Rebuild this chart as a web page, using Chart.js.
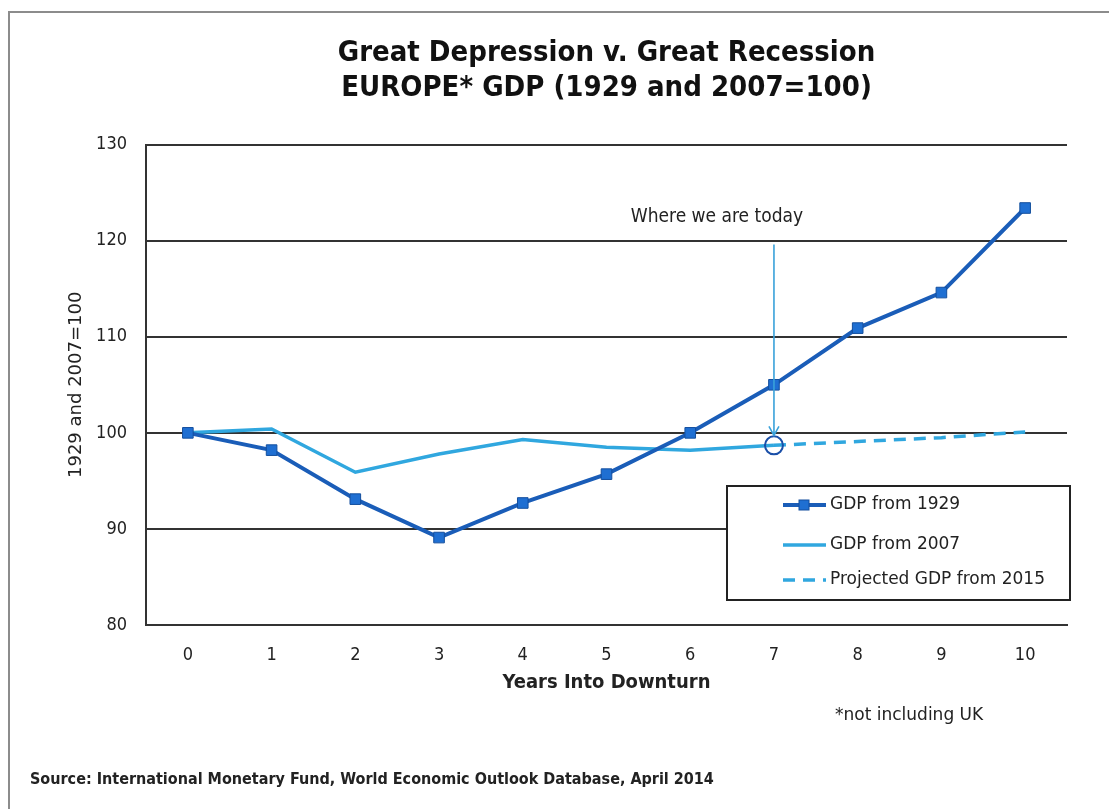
<!DOCTYPE html>
<html>
<head>
<meta charset="utf-8">
<script src="https://cdn.jsdelivr.net/npm/chart.js@4"></script>
<style>
  html, body { margin: 0; padding: 0; background: #fff; }
  #wrap { position: relative; width: 1109px; height: 809px; }
  #frame { position: absolute; left: 8px; top: 11px; right: 0; bottom: 0;
           border-top: 2px solid #8c8c8c; border-left: 2px solid #8c8c8c; }
  canvas { position: absolute; left: 0; top: 0; }
</style>
</head>
<body>
<div id="wrap">
  <div id="frame"></div>
  <canvas id="chart" width="1109" height="809"></canvas>
</div>
<script>
// years into the downturn
const years = ['0', '1', '2', '3', '4', '5', '6', '7', '8', '9', '10'];
// GDP index, 1929 = 100
const gdp1929 = [100, 98.2, 93.1, 89.1, 92.7, 95.7, 100, 105, 110.9, 114.6, 123.4];
// GDP index, 2007 = 100
const gdp2007 = [100, 100.4, 95.9, 97.8, 99.3, 98.5, 98.2, 98.7, null, null, null];
// projection from 2015
const projected = [null, null, null, null, null, null, null, 98.7, 99.1, 99.5, 100.1];
const yTicks = [80, 90, 100, 110, 120, 130];

const DARK = '#1a5db8';
const LIGHT = '#30a7df';
const condensed = '"DejaVu Sans Condensed", "DejaVu Sans", sans-serif';
const plain = '"DejaVu Sans", sans-serif';

// the circle marks "today" on the 2007 line
const todayIndex = 7;
const circleRadius = gdp2007.map((v, i) => i === todayIndex ? 9 : 0);

const extras = {
    id: 'extras',
    afterDatasetsDraw(chart) {
        const ctx = chart.ctx;
        const x = chart.scales.x;
        const y = chart.scales.y;

        // arrow "Where we are today"
        const ax = x.getPixelForValue(todayIndex);
        const top = y.getPixelForValue(119.6);
        const bottom = y.getPixelForValue(gdp2007[todayIndex]) - 10;
        ctx.save();
        ctx.strokeStyle = '#3aa2da';
        ctx.lineWidth = 1.6;
        ctx.beginPath();
        ctx.moveTo(ax, top);
        ctx.lineTo(ax, bottom);
        ctx.moveTo(ax - 5, bottom - 9);
        ctx.lineTo(ax, bottom);
        ctx.lineTo(ax + 5, bottom - 9);
        ctx.stroke();

        ctx.fillStyle = '#222';
        ctx.font = '19px ' + condensed;
        ctx.textAlign = 'center';
        ctx.textBaseline = 'middle';
        ctx.fillText('Where we are today', ax - 57, y.getPixelForValue(122.5));

        // legend box
        const lx = 727, ly = 486, lw = 343, lh = 114;
        ctx.fillStyle = '#fff';
        ctx.fillRect(lx, ly, lw, lh);
        ctx.strokeStyle = '#222';
        ctx.lineWidth = 2;
        ctx.strokeRect(lx, ly, lw, lh);

        const items = chart.data.datasets;
        const rows = [505, 545, 580];
        ctx.textAlign = 'left';
        ctx.font = '17px ' + plain;
        items.forEach((ds, i) => {
            const ry = rows[i];
            ctx.strokeStyle = ds.borderColor;
            ctx.lineWidth = ds.borderWidth;
            ctx.setLineDash(ds.borderDash || []);
            ctx.beginPath();
            ctx.moveTo(783, ry);
            ctx.lineTo(826, ry);
            ctx.stroke();
            ctx.setLineDash([]);
            if (ds.legendMarker) {
                ctx.fillStyle = ds.pointBackgroundColor;
                ctx.strokeStyle = ds.pointBorderColor;
                ctx.lineWidth = 1;
                ctx.fillRect(799, ry - 5, 10, 10);
                ctx.strokeRect(799, ry - 5, 10, 10);
            }
            ctx.fillStyle = '#222';
            ctx.fillText(ds.label, 830, ry);
        });

        // notes
        ctx.font = '17px ' + plain;
        ctx.fillText('*not including UK', 835, 716);
        ctx.font = 'bold 16px ' + condensed;
        ctx.fillText('Source: International Monetary Fund, World Economic Outlook Database, April 2014', 30, 780);
        ctx.restore();
    }
};

const ctx = document.getElementById('chart').getContext('2d');
const chart = new Chart(ctx, {
    type: 'line',
    data: {
        labels: years,
        datasets: [
            {
                label: 'GDP from 1929',
                data: gdp1929,
                borderColor: DARK,
                borderWidth: 4,
                pointStyle: 'rect',
                pointRadius: 7.5,
                pointBackgroundColor: '#1f6fd2',
                pointBorderColor: '#144f9e',
                pointBorderWidth: 1,
                legendMarker: true,
                order: 0
            },
            {
                label: 'GDP from 2007',
                data: gdp2007,
                borderColor: LIGHT,
                borderWidth: 3.5,
                pointStyle: 'circle',
                pointRadius: circleRadius,
                pointBackgroundColor: 'rgba(0,0,0,0)',
                pointBorderColor: '#1a4fa8',
                pointBorderWidth: 2,
                order: 1
            },
            {
                label: 'Projected GDP from 2015',
                data: projected,
                borderColor: LIGHT,
                borderWidth: 3.5,
                borderDash: [12, 8],
                pointRadius: 0,
                order: 2
            }
        ]
    },
    options: {
        responsive: false,
        animation: false,
        layout: { padding: { left: 0, right: 42, top: 0, bottom: 114 } },
        plugins: {
            legend: { display: false },
            tooltip: { enabled: false },
            title: {
                display: true,
                fullSize: false,
                text: ['Great Depression v. Great Recession', 'EUROPE* GDP (1929 and 2007=100)'],
                color: '#111',
                font: { family: condensed, size: 29, weight: 'bold', lineHeight: 1.2 },
                padding: { top: 36, bottom: 39 }
            }
        },
        scales: {
            x: {
                offset: true,
                grid: { display: false, drawTicks: false },
                border: { display: true, color: '#333', width: 2 },
                ticks: { color: '#222', padding: 20, font: { family: condensed, size: 18 } },
                title: {
                    display: true,
                    text: 'Years Into Downturn',
                    color: '#222',
                    font: { family: condensed, size: 20, weight: 'bold' },
                    padding: { top: 0, bottom: 0 }
                },
                afterFit(scale) { scale.height = 70; }
            },
            y: {
                min: 80,
                max: 130,
                afterBuildTicks(scale) { scale.ticks = yTicks.map(v => ({ value: v })); },
                grid: { color: '#333', lineWidth: 2, drawTicks: false },
                border: { display: true, color: '#333', width: 2 },
                ticks: { color: '#222', padding: 19, font: { family: condensed, size: 18 } },
                title: {
                    display: true,
                    text: '1929 and 2007=100',
                    color: '#222',
                    font: { family: plain, size: 18 },
                    padding: { top: 66, bottom: 0 }
                },
                afterFit(scale) { scale.width = 146; }
            }
        }
    },
    plugins: [extras]
});
</script>
</body>
</html>
